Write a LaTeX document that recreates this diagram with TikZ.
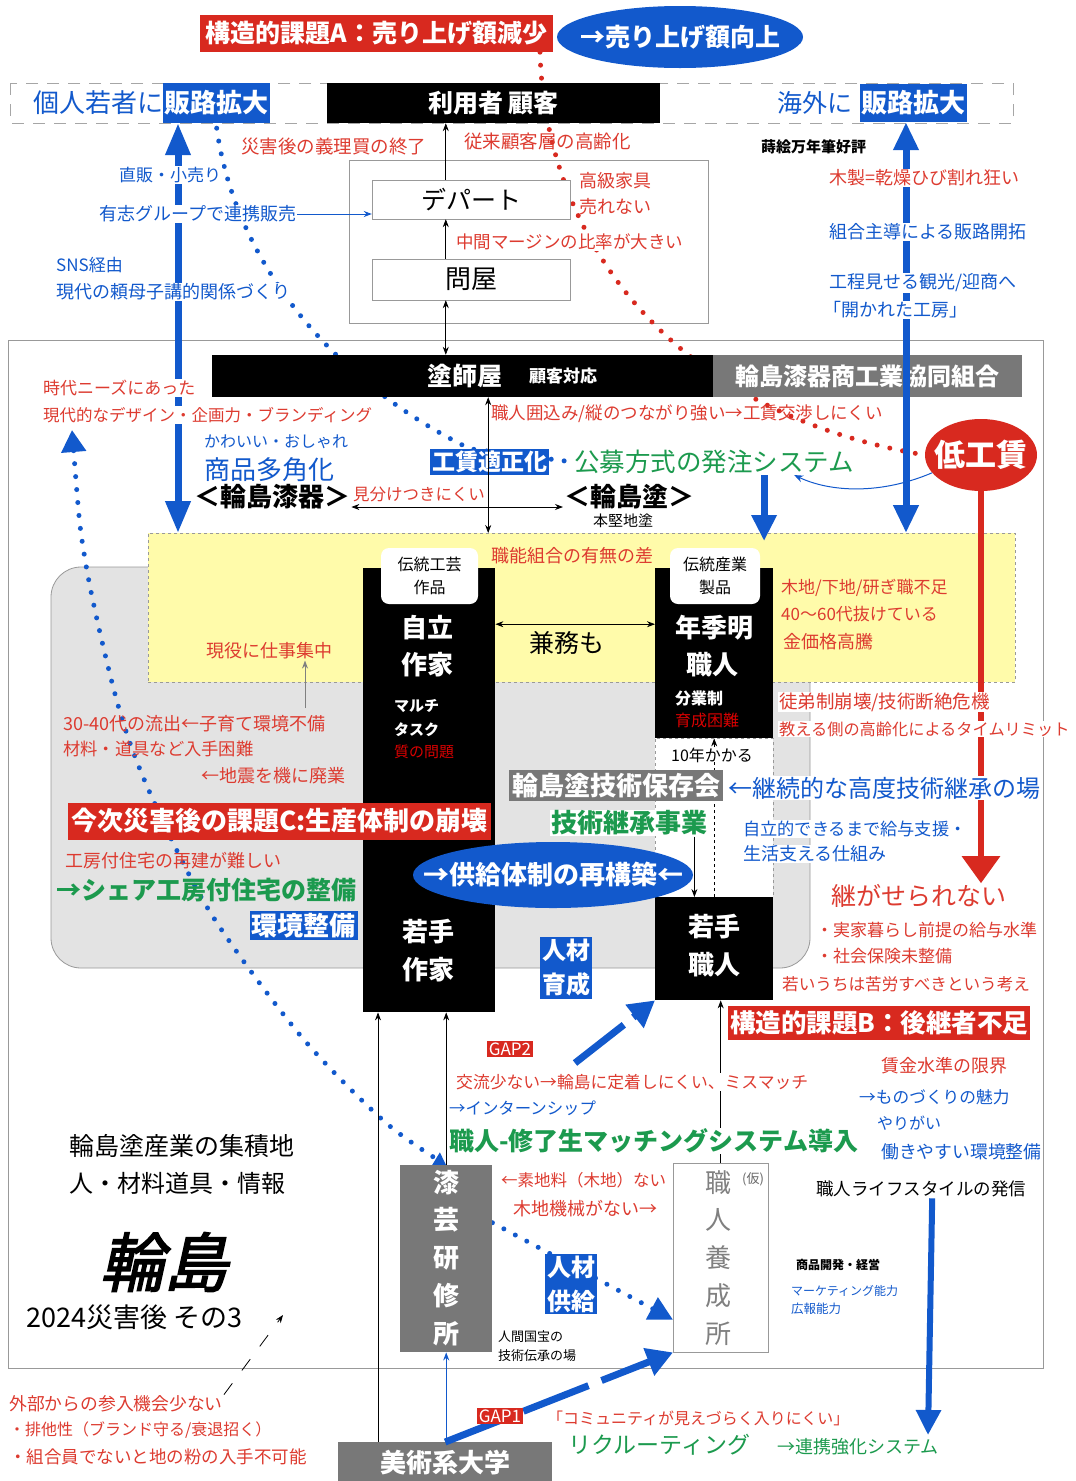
\documentclass[tikz,border=0pt]{standalone}
\usepackage{fontspec}
\setmainfont{Noto Sans CJK JP}
\newfontfamily\slantjp[FakeSlant=0.22,FakeBold=2.5]{Noto Sans CJK JP}
\usetikzlibrary{arrows.meta,shapes.geometric,calc}
\pgfdeclarelayer{back}
\pgfdeclarelayer{mid}
\pgfsetlayers{back,mid,main}
\definecolor{cR}{HTML}{D8291F}
\definecolor{cRt}{HTML}{DD3B30}
\definecolor{cB}{HTML}{1259CC}
\definecolor{cG}{HTML}{1C9A4E}
\definecolor{cGray}{HTML}{787878}
\definecolor{cYel}{HTML}{FFFBAA}
\definecolor{cLG}{HTML}{E3E3E3}
\newcommand{\fsz}[1]{\fontsize{#1}{#1}\selectfont}
\newcommand{\fszl}[2]{\fontsize{#1}{#2}\selectfont}
\tikzset{
  txt/.style={anchor=west, inner sep=1pt, font=\fsz{17}},
  rt/.style={txt, text=cRt},
  bt/.style={txt, text=cB},
  gt/.style={txt, text=cG},
  kt/.style={txt, text=black},
  wbg/.style={fill=white},
  boxw/.style={text=white, font=\fsz{24}\bfseries, inner sep=2pt},
  redbox/.style={boxw, fill=cR},
  bluebox/.style={boxw, fill=cB},
  graybox/.style={boxw, fill=cGray},
  blackbox/.style={fill=black, inner sep=0pt},
  wlab/.style={text=white, font=\fsz{26}\bfseries, inner sep=0pt},
  thickb/.style={cB, line width=7pt},
  bdots/.style={cB, line width=5pt, line cap=round, dash pattern=on 0pt off 13pt},
  rdots/.style={cR, line width=5pt, line cap=round, dash pattern=on 0pt off 13pt},
  bdash/.style={cB, line width=7pt, dash pattern=on 70pt off 14pt},
  thinl/.style={black, line width=0.8pt},
  stip/.style={-{Stealth[length=8pt,width=6pt]}},
  dtip/.style={{Stealth[length=8pt,width=6pt]}-{Stealth[length=8pt,width=6pt]}},
  vch/.style={inner sep=0pt, font=\fsz{26}\bfseries, text=white},
  vchg/.style={inner sep=0pt, font=\fsz{26}, text=black!50},
}
\begin{document}
\begin{tikzpicture}[x=1pt,y=-1pt]
\useasboundingbox (0,0) rectangle (1076,1481);
\begin{pgfonlayer}{back}
\fill[white] (0,0) rectangle (1076,1481);
\draw[gray!80, line width=0.8pt] (8,340) rectangle (1043,1368);
\draw[gray!70, line width=0.8pt, dash pattern=on 12pt off 9pt] (10,83) rectangle (1013,123);
\draw[gray!80, line width=0.8pt] (349,160) rectangle (708,323);
\draw[gray!80, line width=0.8pt, fill=cLG, rounded corners=30pt] (51,567) rectangle (810,968);
\node[draw=gray!80, dashed, line width=0.8pt, fill=cYel, minimum width=867pt, minimum height=149pt, anchor=north west, inner sep=0pt] (yel) at (148,533) {};
\end{pgfonlayer}

% ---------- top ----------
\node[redbox, font=\fsz{25}\bfseries, minimum width=353pt, minimum height=37pt, inner sep=0pt] (A) at (376.5,33.5) {構造的課題A：売り上げ額減少};
\node[ellipse, fill=cB, minimum width=246pt, minimum height=62pt, inner sep=0pt, text=white, font=\fsz{25}\bfseries] (U) at (680,37) {\makebox[0pt]{→売り上げ額向上}};
\node[anchor=west, inner sep=0pt, text=cB, font=\fsz{26}] (kojin) at (33,103) {個人若者に};
\node[bluebox, font=\fsz{26}\bfseries, anchor=west, minimum height=40pt, inner sep=1.5pt] (hanroL) at (163,103) {販路拡大};
\node[blackbox, minimum width=333pt, minimum height=40pt, text=white, font=\fsz{25}\bfseries] (user) at (493.5,103) {利用者 顧客};
\node[anchor=east, inner sep=0pt, text=cB, font=\fsz{25}] (kaigai) at (853,103) {海外に};
\node[bluebox, font=\fsz{26}\bfseries, anchor=west, minimum height=38pt, inner sep=1.5pt] (hanroR) at (860,103) {販路拡大};
\node[ellipse, fill=cR, minimum width=112pt, minimum height=72pt, inner sep=0pt, text=white, font=\fsz{31}\bfseries] (teikou) at (981,455) {\makebox[0pt]{低工賃}};
\node[rt, font=\fsz{25}] (tsuga) at (830,896) {継がせられない};

\node[draw=gray!80, fill=white, minimum width=198pt, minimum height=39pt, font=\fsz{25}] (dept) at (471,199.5) {デパート};
\node[draw=gray!80, fill=white, minimum width=198pt, minimum height=41pt, font=\fsz{26}] (ton) at (471,279.5) {問屋};
\draw[thinl, stip] ([xshift=74pt]ton.north west) -- ([xshift=74pt]dept.south west);
\draw[thinl, stip] ([xshift=74pt]dept.north west) -- ([xshift=74pt]dept.north west |- user.south);

\node[blackbox, minimum width=503pt, minimum height=42pt, anchor=west] (nushi) at (212,376) {};
\node[text=white, font=\fsz{25}\bfseries, inner sep=0pt] (nushiT) at (465,376) {塗師屋};
\node[text=white, font=\fsz{17}\bfseries, inner sep=0pt] (nushiS) at (563,376) {顧客対応};
\node[graybox, minimum width=309pt, minimum height=42pt, inner sep=0pt, anchor=west] (kumiai) at (713,376) {輪島漆器商工業協同組合};
\draw[thinl, dtip] ([xshift=74pt]ton.south west) -- ([xshift=74pt]ton.south west |- nushi.north);

% thick connectors
\draw[thickb, {Triangle[length=32pt,width=24pt]}-{Triangle[length=32pt,width=24pt]}] ([xshift=15pt]hanroL.south west) -- ([xshift=15pt]hanroL.south west |- yel.north);
\draw[thickb, {Triangle[length=28pt,width=24pt]}-{Triangle[length=28pt,width=24pt]}] ([xshift=46pt]hanroR.south west) -- ([xshift=46pt]hanroR.south west |- yel.north);
\draw[cR, line width=6pt, -{Triangle[length=27pt,width=37pt]}] (teikou.south) -- (teikou.south |- tsuga.north);

% ---------- upper texts ----------
\node[rt, font=\fsz{18.5}] (giri) at (240,146) {災害後の義理買の終了};
\node[rt, font=\fsz{18.5}] (koureika) at (463,141) {従来顧客層の高齢化};
\node[kt, font=\fsz{15}\bfseries] (makie) at (760,147) {蒔絵万年筆好評};
\node[rt, wbg, font=\fsz{18}] (mokusei) at (828,178) {木製=乾燥ひび割れ狂い};
\node[bt, wbg, font=\fsz{18}] (kumiaishudo) at (828,232) {組合主導による販路開拓};
\node[bt, wbg, font=\fsz{18}] (koutei) at (828,283) {工程見せる観光/迎商へ};
\node[bt, wbg, font=\fsz{18}] (hirakareta) at (822,310) {「開かれた工房」};
\node[rt, font=\fsz{18}] (koukyu) at (578,181) {高級家具};
\node[rt, font=\fsz{18}] (urenai) at (578,207) {売れない};
\node[rt, wbg, font=\fsz{17.5}] (margin) at (455,242) {中間マージンの比率が大きい};
\node[bt, wbg, font=\fsz{17}] (chokuhan) at (118,175) {直販・小売り};
\node[bt, wbg, font=\fsz{18}] (yushi) at (98,214) {有志グループで連携販売};
\draw[cB, line width=0.9pt, stip] (yushi.east) -- (yushi.east -| dept.west);
\node[bt, font=\fsz{17}] (sns) at (55,265) {SNS経由};
\node[bt, wbg, font=\fsz{18}] (tanomoshi) at (55,292) {現代の頼母子講的関係づくり};

% ---------- middle band ----------
\node[rt, wbg, font=\fsz{17}] (jidai1) at (42,388) {時代ニーズにあった};
\node[rt, wbg, font=\fsz{16.5}] (jidai) at (42,415) {現代的なデザイン・企画力・ブランディング};
\node[bt, font=\fsz{16}] (kawaii) at (203,442) {かわいい・おしゃれ};
\node[bt, font=\fsz{26}] (tamoku) at (203,470) {商品多角化};
\node[kt, font=\fsz{26}\bfseries] (shikki) at (193,497) {＜輪島漆器＞};
\node[rt, font=\fsz{16.5}] (miwake) at (352,494) {見分けつきにくい};
\node[rt, font=\fsz{17.5}] (kakoi) at (490,414) {職人囲込み/縦のつながり強い→工賃交渉しにくい};
\node[bluebox, font=\fsz{23}\bfseries, anchor=west] (kouchin) at (430,462) {工賃適正化};
\node[gt, font=\fsz{25.5}] (koubo) at (573,462) {公募方式の発注システム};
\node[kt, font=\fsz{26}\bfseries] (nuri) at (563,497) {＜輪島塗＞};
\node[kt, font=\fsz{15}] (honkataji) at (592,521) {本堅地塗};
\draw[thinl, dtip] ([yshift=-10pt]shikki.east) -- ([yshift=-10pt]shikki.east -| nuri.west);
\draw[thinl, dtip] ([xshift=24.5pt]nushi.south) -- ([xshift=24.5pt]nushi.south |- yel.north);
\draw[thickb, -{Triangle[length=26pt,width=24pt]}] ([xshift=50pt]koubo.south) -- ([xshift=50pt,yshift=-8pt]koubo.south |- yel.north);
\draw[cB, line width=1pt, -{Stealth[length=9pt,width=7pt]}] (teikou.200) .. controls (880,495) and (830,492) .. ([xshift=-61pt]koubo.south east);

% ---------- yellow / gray region ----------
\node[rt, font=\fsz{18}] (shokunou) at (490,556) {職能組合の有無の差};
\node[rt, font=\fsz{18}] (genyaku) at (205,651) {現役に仕事集中};
\coordinate (gyS) at (305,708);
\draw[gray, line width=1pt, stip] (gyS) -- (gyS |- genyaku.south);
\node[rt, font=\fsz{17}] (kiji) at (780,588) {木地/下地/研ぎ職不足};
\node[rt, font=\fsz{17}] (nukete) at (780,614) {40〜60代抜けている};
\node[rt, font=\fsz{18}] (kin) at (782,642) {金価格高騰};
\node[rt, wbg, font=\fsz{18.5}] (totei) at (778,702) {徒弟制崩壊/技術断絶危機};
\node[rt, wbg, font=\fsz{16.2}] (oshieru) at (778,729) {教える側の高齢化によるタイムリミット};

% columns
\node[blackbox, minimum width=132pt, minimum height=444pt, anchor=north west] (colL) at (363,568) {};
\node[fill=white, rounded corners=8pt, minimum width=97pt, minimum height=56pt, inner sep=0pt, align=center, font=\fszl{16}{23}] (labL) at (429.5,576) {伝統工芸\\作品};
\node[wlab] (jiritsu) at (427,628) {自立};
\node[wlab] (sakka) at (427,665) {作家};
\node[txt, text=white, font=\fsz{15}\bfseries] (multi) at (393,706) {マルチ};
\node[txt, text=white, font=\fsz{15}\bfseries] (task) at (393,730) {タスク};
\node[txt, text=red!85!black, font=\fsz{15}] (shitsu) at (393,752) {質の問題};
\node[wlab] (wakaL1) at (428,932) {若手};
\node[wlab] (wakaL2) at (428,970) {作家};

\node[blackbox, minimum width=118pt, minimum height=170pt, anchor=north west] (colR) at (655,568) {};
\node[fill=white, rounded corners=8pt, minimum width=90pt, minimum height=56pt, inner sep=0pt, align=center, font=\fszl{16}{23}] (labR) at (715,576) {伝統産業\\製品};
\node[wlab] (nenki) at (714,628) {年季明};
\node[wlab] (shokunin) at (712,665) {職人};
\node[txt, text=white, font=\fsz{16}\bfseries] (bungyou) at (674,698) {分業制};
\node[txt, text=red!85!black, font=\fsz{16}] (ikuseikon) at (674,720) {育成困難};
\node[kt, anchor=center, font=\fsz{25}] (kenmu) at (567,643) {兼務も};
\draw[thinl, dtip] ([yshift=166pt]colL.east) -- ([yshift=166pt]colL.east -| colR.west);

\node[draw=gray!80, dashed, fill=white, minimum width=118pt, minimum height=159pt, anchor=north west, inner sep=0pt] (strip) at (655,738) {};
\node[blackbox, minimum width=118pt, minimum height=103pt, anchor=north west] (waka2) at (655,897) {};
\draw[thinl, dashed, stip] (waka2.north) -- (colR.south);
\node[wlab] (wakaR1) at (714,927) {若手};
\node[wlab] (wakaR2) at (714,965) {職人};
\node[fill=white, inner sep=0pt, font=\fsz{16}] (ten) at (712,755) {10年かかる};

\node[graybox, font=\fsz{26}\bfseries, minimum width=214pt, minimum height=31pt, inner sep=0pt, anchor=north west] (hozon) at (509,770) {輪島塗技術保存会};
\node[bt, wbg, font=\fsz{24}] (keizoku) at (727,788) {←継続的な高度技術継承の場};
\node[gt, wbg, font=\fsz{26}\bfseries] (gijutsu) at (550,823) {技術継承事業};
\draw[thinl, stip] ([xshift=-14pt]gijutsu.south east) -- ([xshift=-14pt]gijutsu.south east |- waka2.north);
\node[bt, wbg, font=\fsz{17.2}] (kyuyo) at (742,829) {自立的できるまで給与支援・};
\node[bt, wbg, font=\fsz{18}] (seikatsu) at (742,854) {生活支える仕組み};

\node[rt, font=\fsz{18}] (ryushutsu) at (62,724) {30-40代の流出←子育て環境不備};
\node[rt, font=\fsz{17.3}] (zairyo) at (62,749) {材料・道具など入手困難};
\node[rt, font=\fsz{18}] (haigyou) at (200,776) {←地震を機に廃業};
\node[redbox, font=\fsz{26}\bfseries, anchor=west, minimum height=37pt, inner sep=3pt] (kadaiC) at (68,821) {今次災害後の課題C:生産体制の崩壊};
\node[rt, font=\fsz{18}] (saiken) at (64,861) {工房付住宅の再建が難しい};
\node[gt, font=\fsz{25}\bfseries] (share) at (55,890) {→シェア工房付住宅の整備};
\node[bluebox, font=\fsz{26}\bfseries] (kankyo) at (303.5,925.5) {環境整備};

\node[ellipse, fill=cB, minimum width=280pt, minimum height=66pt, inner sep=0pt, text=white, font=\fsz{26}\bfseries] (kyokyu) at (553,875) {\makebox[0pt]{→供給体制の再構築←}};
\node[bluebox, align=center, font=\fszl{24}{34}\bfseries] (jinzai) at (566,968) {人材\\育成};

% ---------- right lower ----------
\node[rt, font=\fsz{17}] (jikka) at (815,930) {・実家暮らし前提の給与水準};
\node[rt, font=\fsz{17}] (shakai) at (815,956) {・社会保険未整備};
\node[rt, font=\fsz{16.6}] (kurou) at (781,984) {若いうちは苦労すべきという考え};
\node[redbox, font=\fsz{25.5}\bfseries, anchor=west, minimum height=34pt] (kadaiB) at (728,1023) {構造的課題B：後継者不足};
\node[rt, font=\fsz{18}] (chingin) at (880,1066) {賃金水準の限界};
\node[bt, font=\fsz{16.7}] (miryoku) at (858,1097) {→ものづくりの魅力};
\node[bt, font=\fsz{16}] (yarigai) at (876,1123) {やりがい};
\node[bt, font=\fsz{17.8}] (hataraki) at (880,1152) {働きやすい環境整備};

% ---------- bottom ----------
\node[fill=cGray, minimum width=92pt, minimum height=187pt, inner sep=0pt, anchor=north west] (shitsugei) at (400,1165) {};
\node[vch] (s1) at (446,1183) {漆};
\node[vch] (s2) at (446,1220) {芸};
\node[vch] (s3) at (446,1258) {研};
\node[vch] (s4) at (446,1296) {修};
\node[vch] (s5) at (446,1334) {所};
\node[draw=gray!80, fill=white, minimum width=95pt, minimum height=189pt, inner sep=0pt, anchor=north west] (yousei) at (673,1163) {};
\node[vchg] (y1) at (718,1183) {職};
\node[inner sep=0pt, font=\fsz{13}, text=black!60] (kari) at (753,1179) {(仮)};
\node[vchg] (y2) at (718,1220) {人};
\node[vchg] (y3) at (718,1258) {養};
\node[vchg] (y4) at (718,1296) {成};
\node[vchg] (y5) at (718,1334) {所};
\node[graybox, font=\fsz{26}\bfseries, minimum width=214pt, minimum height=40pt, inner sep=0pt, anchor=north west] (daigaku) at (338,1442) {美術系大学};

\draw[thinl, stip] ([xshift=40pt]daigaku.north west) -- ([xshift=40pt]daigaku.north west |- colL.south);
\draw[thinl, stip] (shitsugei.north) -- (shitsugei.north |- colL.south);
\draw[thinl, stip] (yousei.north) -- (yousei.north |- waka2.south);
\draw[cB, line width=1pt, stip] (shitsugei.south |- daigaku.north) -- (shitsugei.south);

\node[redbox, font=\fsz{17}] (gap2) at (510,1049) {GAP2};
\coordinate (g2s) at (575,1063);
\draw[cB, line width=7pt, dash pattern=on 62pt off 12pt, -{Triangle[length=26pt,width=28pt]}] (g2s) -- (waka2.south west);
\node[rt, wbg, font=\fsz{16.8}] (kouryu) at (455,1082) {交流少ない→輪島に定着しにくい、ミスマッチ};
\node[bt, font=\fsz{16.4}] (intern) at (448,1108) {→インターンシップ};
\node[gt, wbg, font=\fsz{25}\bfseries] (matching) at (448,1141) {職人-修了生マッチングシステム導入};

\node[rt, font=\fsz{16.5}] (kiji2) at (500,1180) {←素地料（木地）ない};
\node[rt, font=\fsz{18}] (kikai) at (512,1209) {木地機械がない→};
\node[kt, font=\fsz{13}] (kokuhou1) at (497,1337) {人間国宝の};
\node[kt, font=\fsz{13}] (kokuhou2) at (497,1356) {技術伝承の場};
\node[kt, font=\fsz{17.5}] (hasshin) at (815,1189) {職人ライフスタイルの発信};
\node[kt, font=\fsz{12}\bfseries] (shouhin) at (795,1265) {商品開発・経営};
\node[bt, font=\fsz{12}] (marketing) at (790,1291) {マーケティング能力};
\node[bt, font=\fsz{12.5}] (kouhou) at (790,1309) {広報能力};
\coordinate (renkeiTip) at (928,1435);
\draw[cB, line width=6pt, -{Triangle[length=25pt,width=24pt]}] ([xshift=11pt]hasshin.south) -- (renkeiTip);
\node[gt, font=\fsz{18}] (renkei) at (776,1447) {→連携強化システム};

\draw[bdash, -{Triangle[length=26pt,width=28pt]}] (daigaku.north) -- (yousei.south west);
\node[redbox, font=\fsz{17}] (gap1) at (500,1416) {GAP1};
\node[rt, font=\fsz{16}] (community) at (546,1418) {「コミュニティが見えづらく入りにくい」};
\node[gt, font=\fsz{23}] (recruit) at (567,1445) {リクルーティング};

\node[kt, font=\fsz{25}] (shuseki) at (68,1146) {輪島塗産業の集積地};
\node[kt, font=\fsz{24}] (hito) at (68,1183) {人・材料道具・情報};
\node[inner sep=0pt, font=\slantjp\fsz{64}] (wajima) at (164,1262) {輪島};
\node[kt, font=\fsz{27}] (sono3) at (25,1317) {2024災害後 その3};
\node[rt, font=\fsz{17.8}] (gaibu) at (8,1404) {外部からの参入機会少ない};
\node[rt, font=\fsz{16}] (haita) at (8,1430) {・排他性（ブランド守る/衰退招く）};
\node[rt, font=\fsz{17.5}] (kumiaiin) at (8,1457) {・組合員でないと地の粉の入手不可能};
\coordinate (gaibuB) at (283,1315);
\draw[thinl, dash pattern=on 14pt off 16pt, stip] (gaibu.north east) -- (gaibuB);

% ---------- dotted connectors (under nodes) ----------
\begin{pgfonlayer}{mid}
\draw[rdots] ([xshift=163.5pt]A.south) .. controls (545,230) and (660,410) .. (teikou.west);
\draw[bdots] ([yshift=-5pt]hanroL.south) .. controls (235,260) and (330,380) .. ([xshift=40pt]kouchin.north west) -- (koubo.west);
\coordinate (dotL) at (72,430);
\draw[bdots, {Triangle[length=22pt,width=24pt]}-{Triangle[length=12pt,width=14pt]}] plot[smooth, tension=0.5] coordinates {(dotL) (86,565) (118,705) (150,793) (210,912) (300,1035) (385,1122) (shitsugei.north)};
\draw[bdots, -{Triangle[length=24pt,width=24pt]}] ([yshift=36pt]shitsugei.east) -- ([yshift=-62pt]yousei.west);
\end{pgfonlayer}
\node[bluebox, align=center, font=\fszl{24}{34}\bfseries] (kyokyu2) at (571,1284) {人材\\供給};
\end{tikzpicture}
\end{document}
